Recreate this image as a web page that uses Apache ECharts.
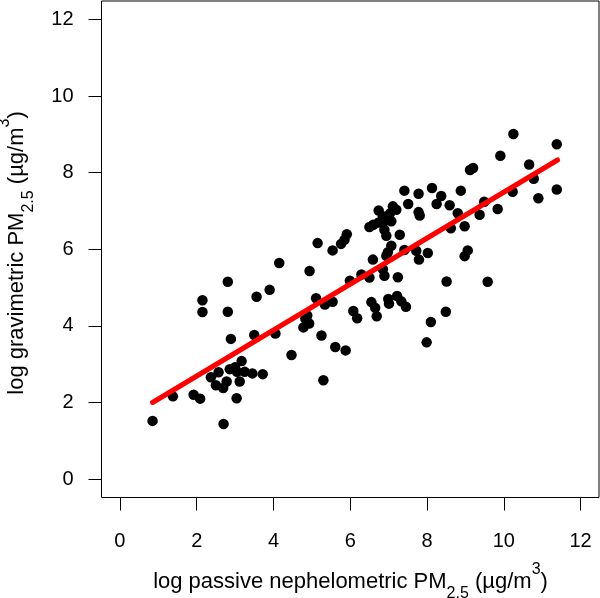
<!DOCTYPE html>
<html>
<head>
<meta charset="utf-8">
<script src="https://cdn.jsdelivr.net/npm/echarts@6/dist/echarts.min.js"></script>
<style>
html,body{margin:0;padding:0;background:#fff;}
#c{width:600px;height:598px;}
</style>
</head>
<body>
<div id="c"></div>
<script>
// passive nephelometric (x) vs gravimetric (y), log scale values
var xVals = [0.85,1.38,1.92,2.09,2.15,2.15,2.37,2.50,2.57,2.70,2.69,2.78,2.81,2.81,2.89,2.86,3.00,3.04,3.12,3.17,3.05,3.25,3.45,3.72,3.50,4.05,3.56,3.90,4.15,4.47,4.94,5.15,5.11,4.83,4.78,4.93,4.88,5.25,5.30,5.34,5.54,5.61,5.88,5.54,5.76,5.85,5.91,5.99,6.08,6.18,6.29,6.50,6.59,6.55,6.65,6.69,6.50,6.60,6.74,6.74,6.85,6.85,6.89,6.94,7.03,7.07,7.11,7.20,7.29,7.07,6.98,6.94,6.85,6.89,7.24,6.99,7.01,7.22,7.33,7.45,7.41,7.51,7.41,7.72,7.79,7.78,7.78,7.81,8.02,7.99,8.10,8.13,8.25,8.37,8.59,8.62,8.88,8.80,8.98,8.51,8.49,8.98,9.06,9.12,9.20,9.37,9.49,9.58,9.84,9.91,10.23,10.25,10.66,10.78,10.90,11.38,11.38];
var yVals = [1.52,2.16,2.20,2.10,4.67,4.36,2.66,2.45,2.79,1.44,2.38,2.55,5.15,4.37,3.66,2.87,2.92,2.11,2.55,3.08,2.80,2.80,2.76,2.74,3.76,3.80,4.76,4.94,5.64,3.24,5.43,6.16,4.72,4.19,3.96,4.06,4.27,3.75,2.58,4.56,4.63,3.45,3.36,5.97,6.14,6.25,6.39,5.18,4.39,4.20,5.34,5.26,5.73,4.62,4.47,4.25,6.58,6.64,6.70,7.01,6.86,6.69,6.51,6.35,6.93,6.73,7.12,7.03,6.38,6.09,5.92,5.83,5.48,5.31,5.27,4.70,4.58,4.78,4.64,4.50,7.53,7.18,5.98,5.96,5.73,7.45,6.97,6.88,5.90,3.57,4.10,7.60,7.18,7.39,7.15,6.55,7.53,6.94,6.60,5.16,4.37,5.82,5.97,8.07,8.12,6.90,7.24,5.15,7.05,8.44,7.50,9.01,8.21,7.84,7.33,8.74,7.56];
// fitted regression line end points
var fitX = [0.85, 11.40];
var fitY = [2.00, 8.33];
var tickValues = [0, 2, 4, 6, 8, 10, 12];

var pts = xVals.map(function(x, i){ return [x, yVals[i]]; });
var fit = fitX.map(function(x, i){ return [x, fitY[i]]; });

var FONT = '"Liberation Sans", Arial, Helvetica, sans-serif';
var rich = {
  m: {fontSize: 22, fontFamily: FONT, color: '#000', lineHeight: 40, verticalAlign: 'middle'},
  sb: {fontSize: 16, fontFamily: FONT, color: '#000', lineHeight: 30, verticalAlign: 'bottom'},
  sp: {fontSize: 16, fontFamily: FONT, color: '#000', lineHeight: 15, verticalAlign: 'top'}
};

var chart = echarts.init(document.getElementById('c'));
var axisCommon = {
  type: 'value',
  min: -0.48,
  max: 12.48,
  splitLine: {show: false},
  axisLine: {show: false, onZero: false},
  axisTick: {show: true, inside: false, length: 13, customValues: tickValues, lineStyle: {color: '#000', width: 1}},
  axisLabel: {customValues: tickValues, color: '#000', fontSize: 20, fontFamily: FONT}
};
chart.setOption({
  animation: false,
  backgroundColor: '#fff',
  grid: {left: 101.5, top: 1, width: 497.5, height: 496.5, show: true, borderColor: '#000', borderWidth: 1, backgroundColor: 'transparent'},
  xAxis: Object.assign({}, axisCommon, {axisLabel: Object.assign({}, axisCommon.axisLabel, {margin: 34})}),
  yAxis: Object.assign({}, axisCommon, {axisLabel: Object.assign({}, axisCommon.axisLabel, {margin: 28})}),
  graphic: [
    {type: 'text', x: 350.5, y: 581.7, style: {
      text: '{m|log passive nephelometric PM}{sb|2.5}{m| (µg/m}{sp|3}{m|)}',
      rich: rich, align: 'center', verticalAlign: 'middle'}},
    {type: 'text', x: 16.5, y: 253, rotation: Math.PI / 2, style: {
      text: '{m|log gravimetric PM}{sb|2.5}{m| (µg/m}{sp|3}{m|)}',
      rich: rich, align: 'center', verticalAlign: 'middle'}}
  ],
  series: [
    {type: 'scatter', data: pts, symbol: 'circle', symbolSize: 10.5, itemStyle: {color: '#000', opacity: 1}, z: 2},
    {type: 'line', data: fit, symbol: 'none', lineStyle: {color: '#ff0000', width: 5, cap: 'round'}, z: 3}
  ]
});
</script>
</body>
</html>
